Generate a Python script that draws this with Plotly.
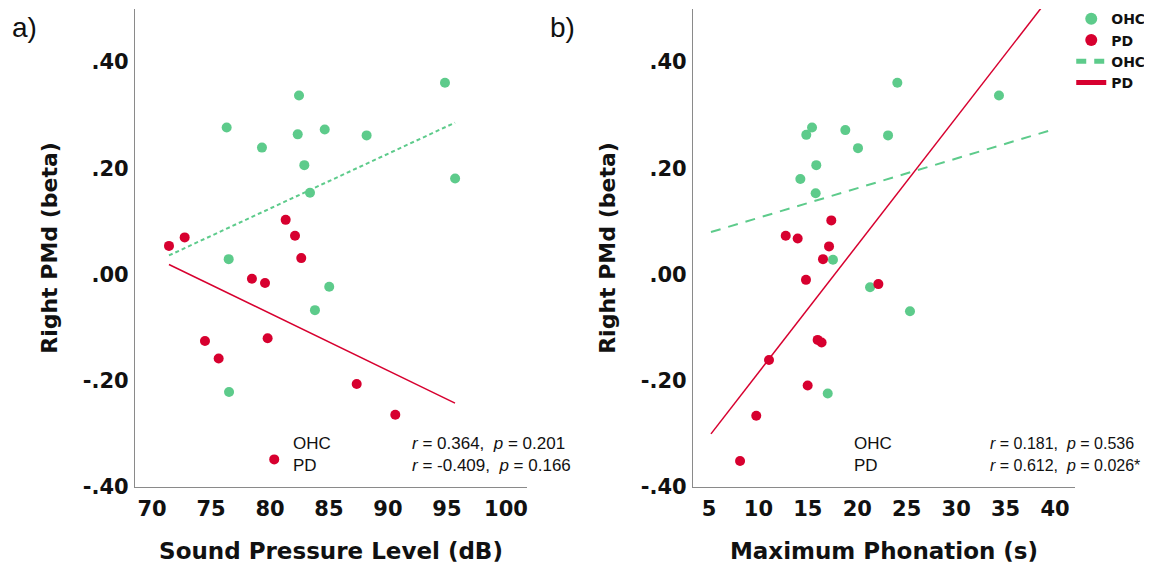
import plotly.graph_objects as go

# ---------------- data ----------------
# Panel a) Sound Pressure Level (dB) vs Right PMd (beta)
spl_ohc_x = [94.83, 82.46, 76.33, 84.64, 82.35, 88.19, 79.32, 82.91, 95.69, 83.39, 76.50, 85.02, 83.81, 76.53]
spl_ohc_y = [0.361, 0.337, 0.277, 0.273, 0.264, 0.262, 0.239, 0.206, 0.181, 0.154, 0.029, -0.023, -0.067, -0.221]
spl_pd_x = [71.44, 72.77, 81.33, 82.12, 82.65, 78.47, 79.58, 74.49, 79.80, 75.65, 87.35, 90.62, 80.36]
spl_pd_y = [0.054, 0.070, 0.103, 0.073, 0.031, -0.008, -0.016, -0.125, -0.120, -0.158, -0.206, -0.264, -0.348]
spl_fit_x = [71.44, 95.68]
spl_fit_ohc_y = [0.036, 0.286]
spl_fit_pd_y = [0.019, -0.242]

# Panel b) Maximum Phonation (s) vs Right PMd (beta)
mp_ohc_x = [24.05, 34.33, 15.42, 14.84, 18.79, 23.11, 20.07, 15.85, 14.24, 15.79, 17.54, 21.29, 25.33, 17.01]
mp_ohc_y = [0.361, 0.337, 0.277, 0.263, 0.272, 0.262, 0.238, 0.206, 0.180, 0.153, 0.028, -0.024, -0.069, -0.224]
mp_pd_x = [17.37, 12.76, 13.97, 17.14, 16.53, 14.81, 22.13, 15.99, 16.39, 11.07, 14.98, 9.78, 8.14]
mp_pd_y = [0.102, 0.073, 0.068, 0.053, 0.029, -0.010, -0.018, -0.123, -0.128, -0.161, -0.209, -0.266, -0.351]
mp_fit_x = [5.2, 39.6]
mp_fit_ohc_y = [0.080, 0.272]
mp_fit_pd_y = [-0.300, 0.526]

y_tickvals = [0.40, 0.20, 0.00, -0.20, -0.40]
y_ticktext = [".40", ".20", ".00", "-.20", "-.40"]
spl_ticks = [70, 75, 80, 85, 90, 95, 100]
mp_ticks = [5, 10, 15, 20, 25, 30, 35, 40]

stats_a = ["<i>r</i> = 0.364,  <i>p</i> = 0.201", "<i>r</i> = -0.409,  <i>p</i> = 0.166"]
stats_b = ["<i>r</i> = 0.181,  <i>p</i> = 0.536", "<i>r</i> = 0.612,  <i>p</i> = 0.026*"]
groups = ["OHC", "PD"]

# ---------------- style ----------------
GREEN = "#5DCB8B"
RED = "#D7002F"
BOLD = "DejaVu Sans"
REG = "Liberation Sans, Arial, sans-serif"

fig = go.Figure()

# panel a
fig.add_trace(go.Scatter(x=spl_fit_x, y=spl_fit_ohc_y, mode="lines", xaxis="x", yaxis="y",
                         line=dict(color=GREEN, width=2, dash="4px,3px"), showlegend=False))
fig.add_trace(go.Scatter(x=spl_fit_x, y=spl_fit_pd_y, mode="lines", xaxis="x", yaxis="y",
                         line=dict(color=RED, width=1.5), showlegend=False))
fig.add_trace(go.Scatter(x=spl_ohc_x, y=spl_ohc_y, mode="markers", xaxis="x", yaxis="y",
                         marker=dict(color=GREEN, size=10), showlegend=False))
fig.add_trace(go.Scatter(x=spl_pd_x, y=spl_pd_y, mode="markers", xaxis="x", yaxis="y",
                         marker=dict(color=RED, size=10), showlegend=False))

# panel b
fig.add_trace(go.Scatter(x=mp_fit_x, y=mp_fit_ohc_y, mode="lines", xaxis="x2", yaxis="y2",
                         name=groups[0], legendrank=3,
                         line=dict(color=GREEN, width=2, dash="10px,8px")))
fig.add_trace(go.Scatter(x=mp_fit_x, y=mp_fit_pd_y, mode="lines", xaxis="x2", yaxis="y2",
                         name=groups[1], legendrank=4,
                         line=dict(color=RED, width=1.5)))
fig.add_trace(go.Scatter(x=mp_ohc_x, y=mp_ohc_y, mode="markers", xaxis="x2", yaxis="y2",
                         name=groups[0], legendrank=1,
                         marker=dict(color=GREEN, size=10)))
fig.add_trace(go.Scatter(x=mp_pd_x, y=mp_pd_y, mode="markers", xaxis="x2", yaxis="y2",
                         name=groups[1], legendrank=2,
                         marker=dict(color=RED, size=10)))

axis_common = dict(showgrid=False, zeroline=False, showline=True, linecolor="#8a8a8a",
                   linewidth=1.2, ticks="", automargin=False,
                   tickfont=dict(family=BOLD, size=21, color="#111", weight="bold"),
                   title_font=dict(family=BOLD, size=22, color="#111", weight="bold"))
xtitle_font = dict(family=BOLD, size=23, color="#111", weight="bold")
x_common = {k: v for k, v in axis_common.items() if k != "title_font"}

# page is drawn with an 8px body offset; margins compensate for it
fig.update_layout(
    width=1152, height=564,
    margin=dict(l=127, r=85, t=1, b=85, autoexpand=False),
    paper_bgcolor="white", plot_bgcolor="white",
    xaxis=dict(domain=[0, 0.417], range=[68.56, 101.78], tickmode="array", tickvals=spl_ticks,
               ticklabelstandoff=3,
               title=dict(text="Sound Pressure Level (dB)", standoff=22, font=xtitle_font),
               **x_common),
    yaxis=dict(domain=[0, 1], range=[-0.40, 0.50], tickmode="array", tickvals=y_tickvals,
               ticktext=y_ticktext, ticklabelstandoff=1,
               title=dict(text="Right PMd (beta)", standoff=19), **axis_common),
    xaxis2=dict(domain=[0.5936, 1], range=[3.38, 42.02], tickmode="array", tickvals=mp_ticks,
                anchor="y2", ticklabelstandoff=3,
                title=dict(text="Maximum Phonation (s)", standoff=22, font=xtitle_font),
                **x_common),
    yaxis2=dict(domain=[0, 1], range=[-0.40, 0.50], tickmode="array", tickvals=y_tickvals,
                ticktext=y_ticktext, anchor="x2", ticklabelstandoff=1,
                title=dict(text="Right PMd (beta)", standoff=19), **axis_common),
    legend=dict(x=0.996, y=1.012, xanchor="left", yanchor="top", bgcolor="rgba(0,0,0,0)",
                font=dict(family=BOLD, size=14, color="#111", weight="bold"),
                itemsizing="constant", tracegroupgap=0, itemwidth=30),
    showlegend=True,
)

annotations = []
# panel letters
annotations.append(dict(text="a)", xref="paper", yref="paper", x=-0.133, y=0.962,
                        xanchor="left", yanchor="middle",
                        showarrow=False, font=dict(family=REG, size=28, color="#111")))
annotations.append(dict(text="b)", xref="paper", yref="paper", x=0.439, y=0.962,
                        xanchor="left", yanchor="middle",
                        showarrow=False, font=dict(family=REG, size=28, color="#111")))

for xr, yr, stats, gx, sx, fs in [("x domain", "y domain", stats_a, 0.398, 0.7015, 17),
                                  ("x2 domain", "y2 domain", stats_b, 0.4154, 0.772, 16)]:
    for i, (g, s) in enumerate(zip(groups, stats)):
        yy = 0.092 - i * 0.047
        annotations.append(dict(text=g, xref=xr, yref=yr, x=gx, y=yy, xanchor="left",
                                yanchor="middle", showarrow=False,
                                font=dict(family=REG, size=17, color="#111")))
        annotations.append(dict(text=s, xref=xr, yref=yr, x=sx, y=yy, xanchor="left",
                                yanchor="middle", showarrow=False,
                                font=dict(family=REG, size=fs, color="#111")))

fig.update_layout(annotations=annotations)

fig.write_html("out.html")
